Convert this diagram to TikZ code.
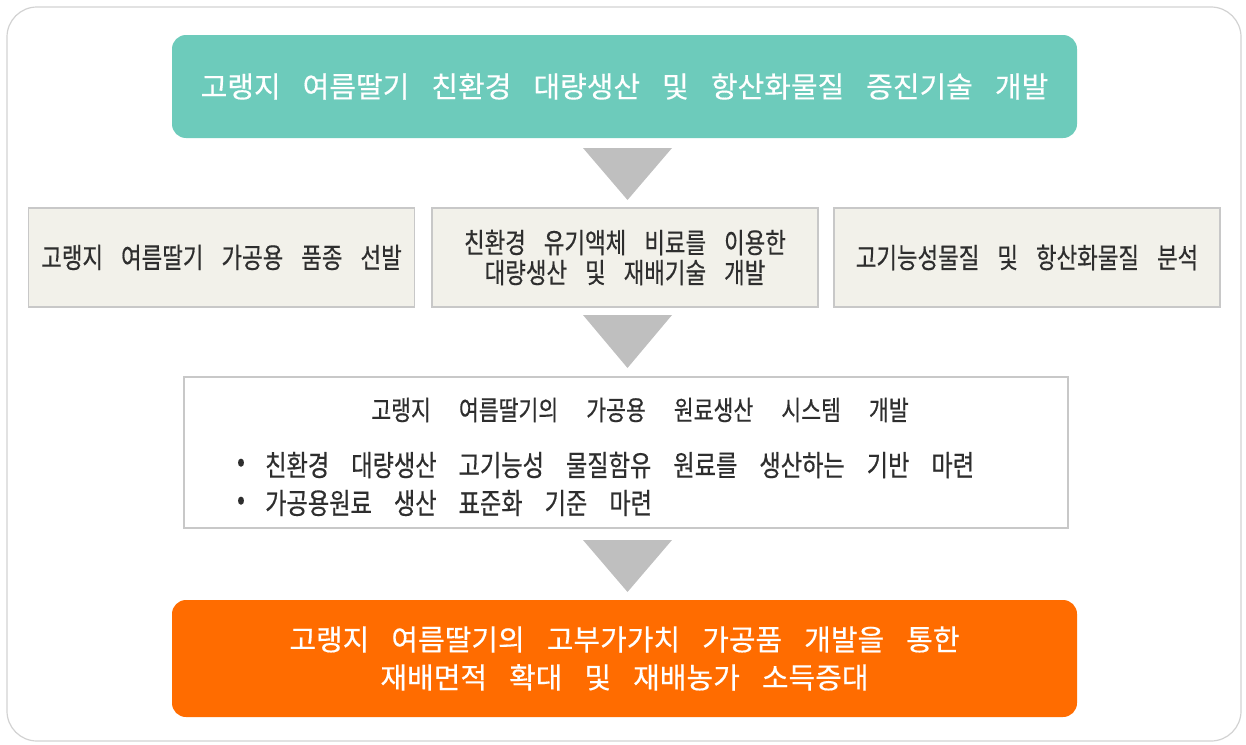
\documentclass[tikz,border=0pt]{standalone}
\usepackage{fontspec}
\newfontfamily\kr[FakeBold=0.4]{Noto Sans CJK KR}
\newfontfamily\krn[FakeStretch=0.8,FakeBold=0.5]{Noto Sans CJK KR}
\usetikzlibrary{calc}
\definecolor{tealc}{HTML}{6DCBBB}
\definecolor{orangec}{HTML}{FF6C00}
\definecolor{beige}{HTML}{F2F1EA}
\definecolor{boxline}{HTML}{C8C8C8}
\definecolor{arrowgray}{HTML}{BFBFBF}
\definecolor{framecol}{HTML}{D2D2D2}
\definecolor{txt}{HTML}{2E2E2E}
\tikzset{
  bigbox/.style={rounded corners=14pt, inner sep=0pt, align=center, text=white,
    font={\kr\fontsize{29}{38}\selectfont\spaceskip=22pt\relax}},
  midbox/.style={fill=beige, draw=boxline, line width=1.4pt, inner sep=0pt,
    minimum width=386pt, minimum height=99pt, align=center, text=txt,
    font={\krn\fontsize{28}{30}\selectfont\spaceskip=18pt\relax}},
  sysbox/.style={fill=white, draw=boxline, line width=1.4pt, inner sep=0pt,
    minimum width=884pt, minimum height=151pt},
  systitle/.style={inner sep=0pt, text=txt,
    font={\krn\fontsize{27}{28}\selectfont\spaceskip=28pt\relax}},
  bullettxt/.style={inner sep=0pt, text=txt, anchor=west,
    font={\krn\fontsize{29}{30}\selectfont\spaceskip=22pt\relax}},
  downarrow/.style={fill=arrowgray}
}
\begin{document}
\begin{tikzpicture}[x=1pt,y=-1pt]
\useasboundingbox (0,0) rectangle (1246,744);
\draw[framecol, line width=1.2pt, rounded corners=30pt] (7,7) rectangle (1241,741);

\node[bigbox, fill=tealc, minimum width=905pt, minimum height=103pt] (goal) at (624.5,86.5)
  {고랭지 여름딸기 친환경 대량생산 및 항산화물질 증진기술 개발};

\node[midbox] (m1) at (221.5,257.5) {고랭지 여름딸기 가공용 품종 선발};
\node[midbox] (m2) at (625,257.5) {친환경 유기액체 비료를 이용한\\대량생산 및 재배기술 개발};
\node[midbox] (m3) at (1027,257.5) {고기능성물질 및 항산화물질 분석};

\node[sysbox] (sys) at (626,452.5) {};
\node[systitle] (st) at (640,410) {고랭지 여름딸기의 가공용 원료생산 시스템 개발};
\node[bullettxt, anchor=center] (bd1) at (241,465) {•};
\node[bullettxt] (bl1) at (265,465) {친환경 대량생산 고기능성 물질함유 원료를 생산하는 기반 마련};
\node[bullettxt, anchor=center] (bd2) at (241,503) {•};
\node[bullettxt] (bl2) at (265,503) {가공용원료 생산 표준화 기준 마련};

\node[bigbox, fill=orangec, minimum width=905pt, minimum height=117pt] (result) at (624.5,658.5)
  {고랭지 여름딸기의 고부가가치 가공품 개발을 통한\\재배면적 확대 및 재배농가 소득증대};

\coordinate (a1) at (627.5,148);
\coordinate (a2) at (627.5,315);
\coordinate (a3) at (627.5,540);
\fill[downarrow] ($(a1)+(-44.5,0)$) -- ($(a1)+(44.5,0)$) -- ($(a1)+(0,52)$) -- cycle;
\fill[downarrow] ($(a2)+(-44.5,0)$) -- ($(a2)+(44.5,0)$) -- ($(a2)+(0,53)$) -- cycle;
\fill[downarrow] ($(a3)+(-44.5,0)$) -- ($(a3)+(44.5,0)$) -- ($(a3)+(0,52)$) -- cycle;
\end{tikzpicture}
\end{document}
